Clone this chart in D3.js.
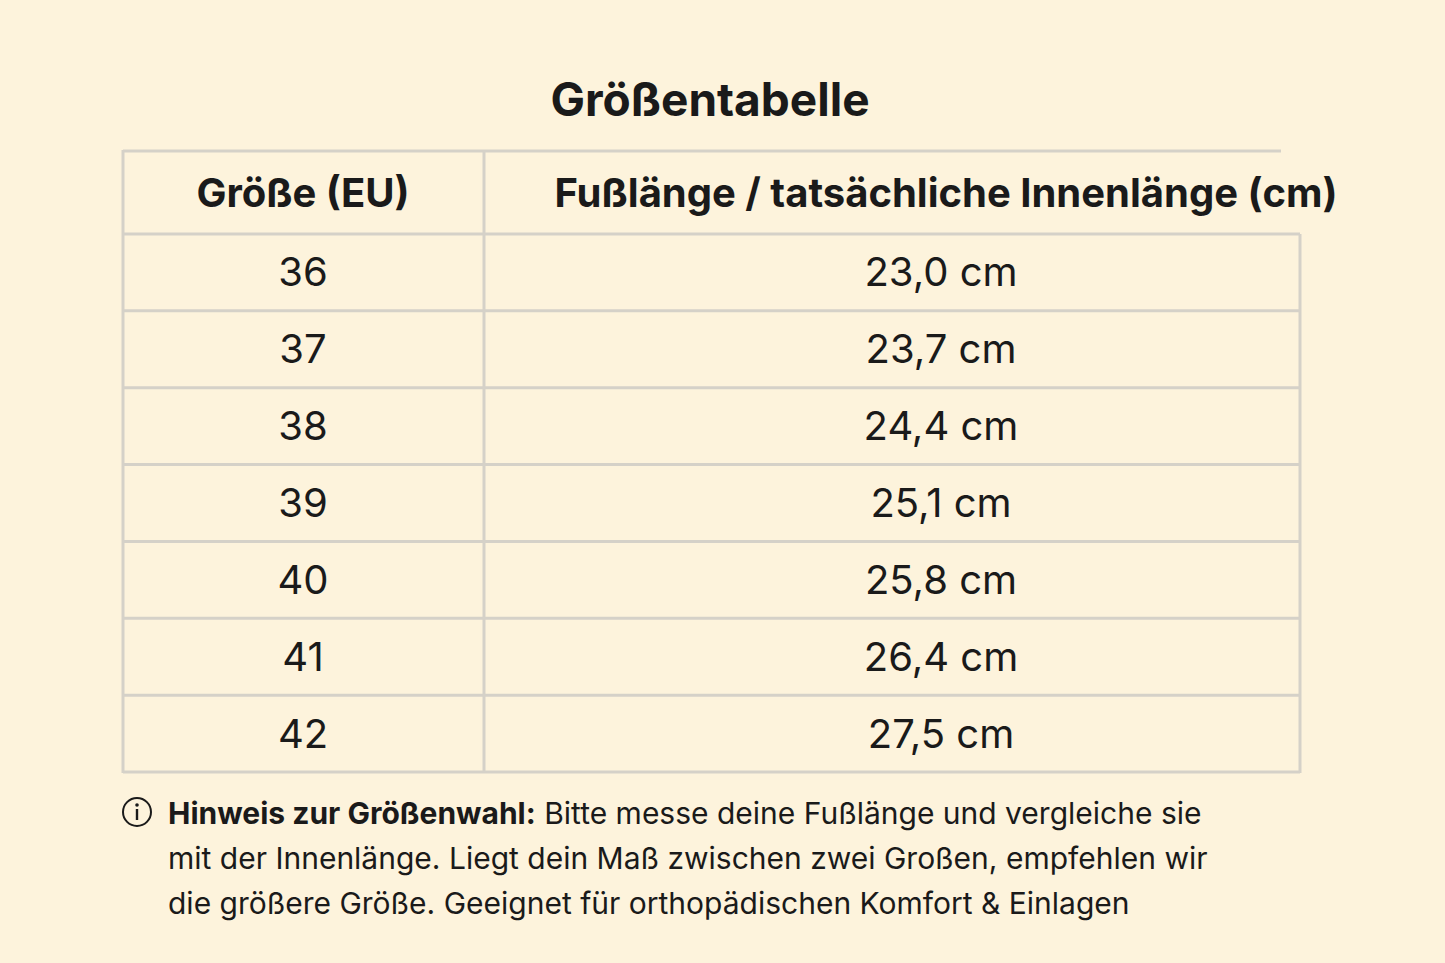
<!DOCTYPE html>
<html><head><meta charset="utf-8">
<script src="https://cdn.jsdelivr.net/npm/d3@7"></script>
<style>
html,body{margin:0;padding:0;background:#fdf3dc;}
text{font-family:Inter,"Noto Sans",sans-serif;fill:#1a1a1a;}
</style></head>
<body>
<script>
const sizes = ["36", "37", "38", "39", "40", "41", "42"];
const lengths = ["23,0 cm", "23,7 cm", "24,4 cm", "25,1 cm", "25,8 cm", "26,4 cm", "27,5 cm"];
const headers = ["Größe (EU)", "Fußlänge / tatsächliche Innenlänge (cm)"];
const noteBold = "Hinweis zur Größenwahl:";
const noteLines = [
    " Bitte messe deine Fußlänge und vergleiche sie",
    "mit der Innenlänge. Liegt dein Maß zwischen zwei Großen, empfehlen wir",
    "die größere Größe. Geeignet für orthopädischen Komfort & Einlagen"
];

const width = 1445, height = 963;
const left = 123, mid = 484, right = 1300;
const lineColor = "#d5d1c8";

const svg = d3.select("body").append("svg")
    .attr("width", width).attr("height", height);

svg.append("rect").attr("width", width).attr("height", height).attr("fill", "#fdf3dc");

svg.append("text")
    .attr("x", 710).attr("y", 116)
    .attr("text-anchor", "middle")
    .attr("font-size", 46).attr("font-weight", 700)
    .text("Größentabelle");

const y = d3.scaleBand().domain(sizes).range([234, 772]);

// header
svg.append("line").attr("x1", left).attr("x2", 1281).attr("y1", 151).attr("y2", 151)
    .attr("stroke", lineColor).attr("stroke-width", 3);
svg.append("text").attr("x", 303).attr("y", 207).attr("text-anchor", "middle")
    .attr("font-size", 40).attr("font-weight", 700).text(headers[0]);
svg.append("text").attr("x", 946).attr("y", 207).attr("text-anchor", "middle")
    .attr("font-size", 40).attr("font-weight", 700).text(headers[1]);

// row lines
svg.selectAll(".hl").data(sizes).enter().append("line")
    .attr("x1", left).attr("x2", right)
    .attr("y1", d => y(d)).attr("y2", d => y(d))
    .attr("stroke", lineColor).attr("stroke-width", 3);
svg.append("line").attr("x1", left).attr("x2", right).attr("y1", 772).attr("y2", 772)
    .attr("stroke", lineColor).attr("stroke-width", 3);

// vertical lines
svg.append("line").attr("x1", left).attr("x2", left).attr("y1", 150).attr("y2", 773)
    .attr("stroke", lineColor).attr("stroke-width", 3);
svg.append("line").attr("x1", mid).attr("x2", mid).attr("y1", 150).attr("y2", 773)
    .attr("stroke", lineColor).attr("stroke-width", 3);
svg.append("line").attr("x1", right).attr("x2", right).attr("y1", 234).attr("y2", 773)
    .attr("stroke", lineColor).attr("stroke-width", 3);

svg.selectAll(".size").data(sizes).enter().append("text")
    .attr("x", 303).attr("y", d => y(d) + y.bandwidth() / 2 + 14)
    .attr("text-anchor", "middle").attr("font-size", 40)
    .text(d => d);

svg.selectAll(".len").data(lengths).enter().append("text")
    .attr("x", 941).attr("y", (d, i) => y(sizes[i]) + y.bandwidth() / 2 + 14)
    .attr("text-anchor", "middle").attr("font-size", 40)
    .text(d => d);

// note
svg.append("circle").attr("cx", 137).attr("cy", 812).attr("r", 14)
    .attr("fill", "none").attr("stroke", "#1a1a1a").attr("stroke-width", 2);
svg.append("circle").attr("cx", 137).attr("cy", 805).attr("r", 1.8).attr("fill", "#1a1a1a");
svg.append("line").attr("x1", 137).attr("x2", 137).attr("y1", 809).attr("y2", 820)
    .attr("stroke", "#1a1a1a").attr("stroke-width", 2.4);

const first = svg.append("text").attr("x", 168).attr("y", 824).attr("font-size", 30);
first.append("tspan").attr("font-weight", 700).text(noteBold);
first.append("tspan").text(noteLines[0]);
svg.selectAll(".note").data(noteLines.slice(1)).enter().append("text")
    .attr("x", 168).attr("y", (d, i) => 869 + i * 45)
    .attr("font-size", 30).text(d => d);
</script>
</body></html>
